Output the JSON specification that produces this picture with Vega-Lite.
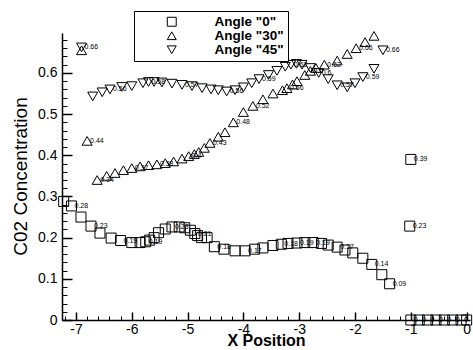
{
  "$schema": "https://vega.github.io/schema/vega-lite/v6.json",
  "width": 408,
  "height": 287,
  "autosize": {"type": "none"},
  "padding": {"left": 62, "top": 33, "right": 3, "bottom": 30},
  "background": "white",
  "config": {
    "view": {"stroke": null},
    "font": "Liberation Sans"
  },
  "data": {"values": [
    {"series": "Angle \"0\"", "x": -7.22, "y": 0.288},
    {"series": "Angle \"0\"", "x": -7.08, "y": 0.277, "label": "0.28"},
    {"series": "Angle \"0\"", "x": -6.91, "y": 0.25},
    {"series": "Angle \"0\"", "x": -6.73, "y": 0.228, "label": "0.23"},
    {"series": "Angle \"0\"", "x": -6.57, "y": 0.211},
    {"series": "Angle \"0\"", "x": -6.37, "y": 0.199},
    {"series": "Angle \"0\"", "x": -6.2, "y": 0.193, "label": "0.19"},
    {"series": "Angle \"0\"", "x": -6.0, "y": 0.188},
    {"series": "Angle \"0\"", "x": -5.85, "y": 0.188},
    {"series": "Angle \"0\"", "x": -5.75, "y": 0.19, "label": "0.19"},
    {"series": "Angle \"0\"", "x": -5.68, "y": 0.194},
    {"series": "Angle \"0\"", "x": -5.6, "y": 0.2},
    {"series": "Angle \"0\"", "x": -5.52, "y": 0.212},
    {"series": "Angle \"0\"", "x": -5.4, "y": 0.221},
    {"series": "Angle \"0\"", "x": -5.28, "y": 0.226, "label": "0.23"},
    {"series": "Angle \"0\"", "x": -5.15, "y": 0.226},
    {"series": "Angle \"0\"", "x": -5.05, "y": 0.224},
    {"series": "Angle \"0\"", "x": -4.95, "y": 0.218},
    {"series": "Angle \"0\"", "x": -4.87, "y": 0.21, "label": "0.21"},
    {"series": "Angle \"0\"", "x": -4.82, "y": 0.205},
    {"series": "Angle \"0\"", "x": -4.75, "y": 0.2},
    {"series": "Angle \"0\"", "x": -4.65, "y": 0.2},
    {"series": "Angle \"0\"", "x": -4.52, "y": 0.178, "label": "0.18"},
    {"series": "Angle \"0\"", "x": -4.35, "y": 0.172},
    {"series": "Angle \"0\"", "x": -4.15, "y": 0.168},
    {"series": "Angle \"0\"", "x": -3.97, "y": 0.168, "label": "0.17"},
    {"series": "Angle \"0\"", "x": -3.8, "y": 0.172},
    {"series": "Angle \"0\"", "x": -3.65, "y": 0.175},
    {"series": "Angle \"0\"", "x": -3.47, "y": 0.181},
    {"series": "Angle \"0\"", "x": -3.32, "y": 0.184, "label": "0.18"},
    {"series": "Angle \"0\"", "x": -3.2, "y": 0.186},
    {"series": "Angle \"0\"", "x": -3.04, "y": 0.187, "label": "0.19"},
    {"series": "Angle \"0\"", "x": -2.9, "y": 0.188},
    {"series": "Angle \"0\"", "x": -2.75, "y": 0.188, "label": "0.19"},
    {"series": "Angle \"0\"", "x": -2.6, "y": 0.186},
    {"series": "Angle \"0\"", "x": -2.48, "y": 0.182},
    {"series": "Angle \"0\"", "x": -2.32, "y": 0.177, "label": "0.17"},
    {"series": "Angle \"0\"", "x": -2.18, "y": 0.17},
    {"series": "Angle \"0\"", "x": -2.04, "y": 0.163},
    {"series": "Angle \"0\"", "x": -1.86, "y": 0.15},
    {"series": "Angle \"0\"", "x": -1.7, "y": 0.135, "label": "0.14"},
    {"series": "Angle \"0\"", "x": -1.52, "y": 0.11},
    {"series": "Angle \"0\"", "x": -1.38, "y": 0.088, "label": "0.09"},
    {"series": "Angle \"0\"", "x": -1.0, "y": 0.39, "label": "0.39"},
    {"series": "Angle \"0\"", "x": -1.02, "y": 0.228, "label": "0.23"},
    {"series": "Angle \"0\"", "x": -1.0, "y": 0.0, "label": "0"},
    {"series": "Angle \"0\"", "x": -0.85, "y": 0.0, "label": "0"},
    {"series": "Angle \"0\"", "x": -0.7, "y": 0.0, "label": "0"},
    {"series": "Angle \"0\"", "x": -0.55, "y": 0.0, "label": "0"},
    {"series": "Angle \"0\"", "x": -0.4, "y": 0.0, "label": "0"},
    {"series": "Angle \"0\"", "x": -0.25, "y": 0.0, "label": "0"},
    {"series": "Angle \"0\"", "x": -0.1, "y": 0.0, "label": "0"},
    {"series": "Angle \"0\"", "x": 0.0, "y": 0.0},

    {"series": "Angle \"30\"", "x": -6.9, "y": 0.655},
    {"series": "Angle \"30\"", "x": -6.8, "y": 0.435, "label": "0.44"},
    {"series": "Angle \"30\"", "x": -6.62, "y": 0.34, "label": "0.34"},
    {"series": "Angle \"30\"", "x": -6.45, "y": 0.35},
    {"series": "Angle \"30\"", "x": -6.3, "y": 0.357},
    {"series": "Angle \"30\"", "x": -6.15, "y": 0.364},
    {"series": "Angle \"30\"", "x": -6.0, "y": 0.369, "label": "0.37"},
    {"series": "Angle \"30\"", "x": -5.85, "y": 0.373},
    {"series": "Angle \"30\"", "x": -5.7, "y": 0.376},
    {"series": "Angle \"30\"", "x": -5.55, "y": 0.378, "label": "0.38"},
    {"series": "Angle \"30\"", "x": -5.4, "y": 0.381},
    {"series": "Angle \"30\"", "x": -5.25, "y": 0.385},
    {"series": "Angle \"30\"", "x": -5.1, "y": 0.392},
    {"series": "Angle \"30\"", "x": -4.98, "y": 0.398, "label": "0.4"},
    {"series": "Angle \"30\"", "x": -4.88, "y": 0.403},
    {"series": "Angle \"30\"", "x": -4.8, "y": 0.408},
    {"series": "Angle \"30\"", "x": -4.7, "y": 0.418},
    {"series": "Angle \"30\"", "x": -4.6, "y": 0.43, "label": "0.43"},
    {"series": "Angle \"30\"", "x": -4.45, "y": 0.445},
    {"series": "Angle \"30\"", "x": -4.33, "y": 0.456},
    {"series": "Angle \"30\"", "x": -4.18, "y": 0.48, "label": "0.48"},
    {"series": "Angle \"30\"", "x": -4.0, "y": 0.505},
    {"series": "Angle \"30\"", "x": -3.83, "y": 0.52, "label": "0.52"},
    {"series": "Angle \"30\"", "x": -3.65, "y": 0.536},
    {"series": "Angle \"30\"", "x": -3.47, "y": 0.55},
    {"series": "Angle \"30\"", "x": -3.3, "y": 0.558},
    {"series": "Angle \"30\"", "x": -3.22, "y": 0.563, "label": "0.56"},
    {"series": "Angle \"30\"", "x": -3.12, "y": 0.572},
    {"series": "Angle \"30\"", "x": -3.04, "y": 0.58},
    {"series": "Angle \"30\"", "x": -2.9, "y": 0.595},
    {"series": "Angle \"30\"", "x": -2.8, "y": 0.605, "label": "0.6"},
    {"series": "Angle \"30\"", "x": -2.7, "y": 0.612},
    {"series": "Angle \"30\"", "x": -2.55, "y": 0.62, "label": "0.62"},
    {"series": "Angle \"30\"", "x": -2.32, "y": 0.63},
    {"series": "Angle \"30\"", "x": -2.14, "y": 0.646},
    {"series": "Angle \"30\"", "x": -1.98, "y": 0.66, "label": "0.66"},
    {"series": "Angle \"30\"", "x": -1.82, "y": 0.675},
    {"series": "Angle \"30\"", "x": -1.66, "y": 0.69},

    {"series": "Angle \"45\"", "x": -6.9, "y": 0.662, "label": "0.66"},
    {"series": "Angle \"45\"", "x": -6.7, "y": 0.543},
    {"series": "Angle \"45\"", "x": -6.53, "y": 0.553},
    {"series": "Angle \"45\"", "x": -6.39, "y": 0.56, "label": "0.56"},
    {"series": "Angle \"45\"", "x": -6.18, "y": 0.566},
    {"series": "Angle \"45\"", "x": -6.0, "y": 0.568},
    {"series": "Angle \"45\"", "x": -5.8, "y": 0.575},
    {"series": "Angle \"45\"", "x": -5.7, "y": 0.578, "label": "0.58"},
    {"series": "Angle \"45\"", "x": -5.6, "y": 0.578},
    {"series": "Angle \"45\"", "x": -5.46, "y": 0.577},
    {"series": "Angle \"45\"", "x": -5.28, "y": 0.574},
    {"series": "Angle \"45\"", "x": -5.1, "y": 0.571, "label": "0.57"},
    {"series": "Angle \"45\"", "x": -4.92, "y": 0.568},
    {"series": "Angle \"45\"", "x": -4.74, "y": 0.563},
    {"series": "Angle \"45\"", "x": -4.58, "y": 0.56},
    {"series": "Angle \"45\"", "x": -4.45, "y": 0.558},
    {"series": "Angle \"45\"", "x": -4.3, "y": 0.555, "label": "0.56"},
    {"series": "Angle \"45\"", "x": -4.15, "y": 0.558},
    {"series": "Angle \"45\"", "x": -4.0, "y": 0.565},
    {"series": "Angle \"45\"", "x": -3.85, "y": 0.575},
    {"series": "Angle \"45\"", "x": -3.72, "y": 0.585, "label": "0.59"},
    {"series": "Angle \"45\"", "x": -3.55, "y": 0.595},
    {"series": "Angle \"45\"", "x": -3.4, "y": 0.605},
    {"series": "Angle \"45\"", "x": -3.25, "y": 0.615},
    {"series": "Angle \"45\"", "x": -3.15, "y": 0.62, "label": "0.62"},
    {"series": "Angle \"45\"", "x": -3.05, "y": 0.622},
    {"series": "Angle \"45\"", "x": -2.95, "y": 0.62},
    {"series": "Angle \"45\"", "x": -2.8, "y": 0.612},
    {"series": "Angle \"45\"", "x": -2.65, "y": 0.6, "label": "0.6"},
    {"series": "Angle \"45\"", "x": -2.48, "y": 0.585},
    {"series": "Angle \"45\"", "x": -2.32, "y": 0.57, "label": "0.57"},
    {"series": "Angle \"45\"", "x": -2.14, "y": 0.565},
    {"series": "Angle \"45\"", "x": -2.0, "y": 0.575},
    {"series": "Angle \"45\"", "x": -1.86, "y": 0.59, "label": "0.59"},
    {"series": "Angle \"45\"", "x": -1.66, "y": 0.61},
    {"series": "Angle \"45\"", "x": -1.5, "y": 0.655, "label": "0.66"}
  ]},
  "resolve": {"axis": {"x": "independent", "y": "independent"}},
  "layer": [
    {
      "mark": {"type": "point", "filled": false, "stroke": "black", "strokeWidth": 1, "opacity": 1, "size": 100},
      "encoding": {
        "x": {"field": "x", "type": "quantitative",
          "scale": {"domain": [-7.25, 0.06], "nice": false, "zero": false},
          "axis": {"orient": "bottom", "values": [-7, -6, -5, -4, -3, -2, -1, 0], "labelExpr": "datum.value + ''",
            "grid": false, "domainColor": "black", "domainWidth": 1.5, "tickColor": "black", "tickWidth": 1.5, "tickSize": -8,
            "labelPadding": 10, "labelFontSize": 14, "labelColor": "black", "labelFont": "Liberation Sans",
            "title": "X Position", "titleFontSize": 16, "titleFontWeight": "bold", "titleColor": "black", "titleFont": "Liberation Sans",
            "titleBaseline": "alphabetic", "titleY": 25}},
        "y": {"field": "y", "type": "quantitative",
          "scale": {"domain": [0, 0.697], "nice": false, "zero": false},
          "axis": {"orient": "left", "values": [0, 0.1, 0.2, 0.3, 0.4, 0.5, 0.6], "format": "~g",
            "grid": false, "domainColor": "black", "domainWidth": 1.5, "tickColor": "black", "tickWidth": 1.5, "tickSize": -10,
            "labelPadding": 15, "labelFontSize": 14, "labelColor": "black", "labelFont": "Liberation Sans",
            "title": "C02 Concentration", "titleFontSize": 19, "titleFontWeight": "normal", "titleColor": "black", "titleFont": "Liberation Sans",
            "titleAngle": 270, "titleAlign": "center", "titleBaseline": "middle", "titleX": -42, "titleY": 143}},
        "shape": {"field": "series", "type": "nominal",
          "scale": {"domain": ["Angle \"0\"", "Angle \"30\"", "Angle \"45\""], "range": ["square", "triangle-up", "triangle-down"]},
          "legend": {"title": null, "columns": 1,
            "orient": "none", "legendX": 72, "legendY": -22,
            "strokeColor": "black", "fillColor": "white", "cornerRadius": 0,
            "padding": 4, "symbolOffset": 27, "labelOffset": 36, "rowPadding": -5,
            "labelFont": "Liberation Sans", "labelFontWeight": "bold", "labelFontSize": 13.5, "labelColor": "black",
            "symbolStrokeColor": "black", "symbolFillColor": "transparent", "symbolSize": 80, "symbolStrokeWidth": 1}}
      }
    },
    {
      "transform": [{"filter": "datum.label != null"}],
      "mark": {"type": "text", "fontSize": 7, "align": "left", "baseline": "middle", "dx": 3, "color": "black", "font": "Liberation Sans"},
      "encoding": {
        "x": {"field": "x", "type": "quantitative",
          "axis": {"orient": "bottom", "values": [-7.2, -7.0, -6.8, -6.6, -6.4, -6.2, -6.0, -5.8, -5.6, -5.4, -5.2, -5.0, -4.8, -4.6, -4.4, -4.2, -4.0, -3.8, -3.6, -3.4, -3.2, -3.0, -2.8, -2.6, -2.4, -2.2, -2.0, -1.8, -1.6, -1.4, -1.2, -1.0, -0.8, -0.6, -0.4, -0.2, 0.0],
            "labels": false, "domain": false, "grid": false, "title": null, "tickColor": "black", "tickWidth": 1, "tickSize": -4}},
        "y": {"field": "y", "type": "quantitative",
          "axis": {"orient": "left", "values": [0, 0.02, 0.04, 0.06, 0.08, 0.1, 0.12, 0.14, 0.16, 0.18, 0.2, 0.22, 0.24, 0.26, 0.28, 0.3, 0.32, 0.34, 0.36, 0.38, 0.4, 0.42, 0.44, 0.46, 0.48, 0.5, 0.52, 0.54, 0.56, 0.58, 0.6, 0.62, 0.64, 0.66, 0.68],
            "labels": false, "domain": false, "grid": false, "title": null, "tickColor": "black", "tickWidth": 1, "tickSize": -5}},
        "text": {"field": "label"}
      }
    }
  ]
}
